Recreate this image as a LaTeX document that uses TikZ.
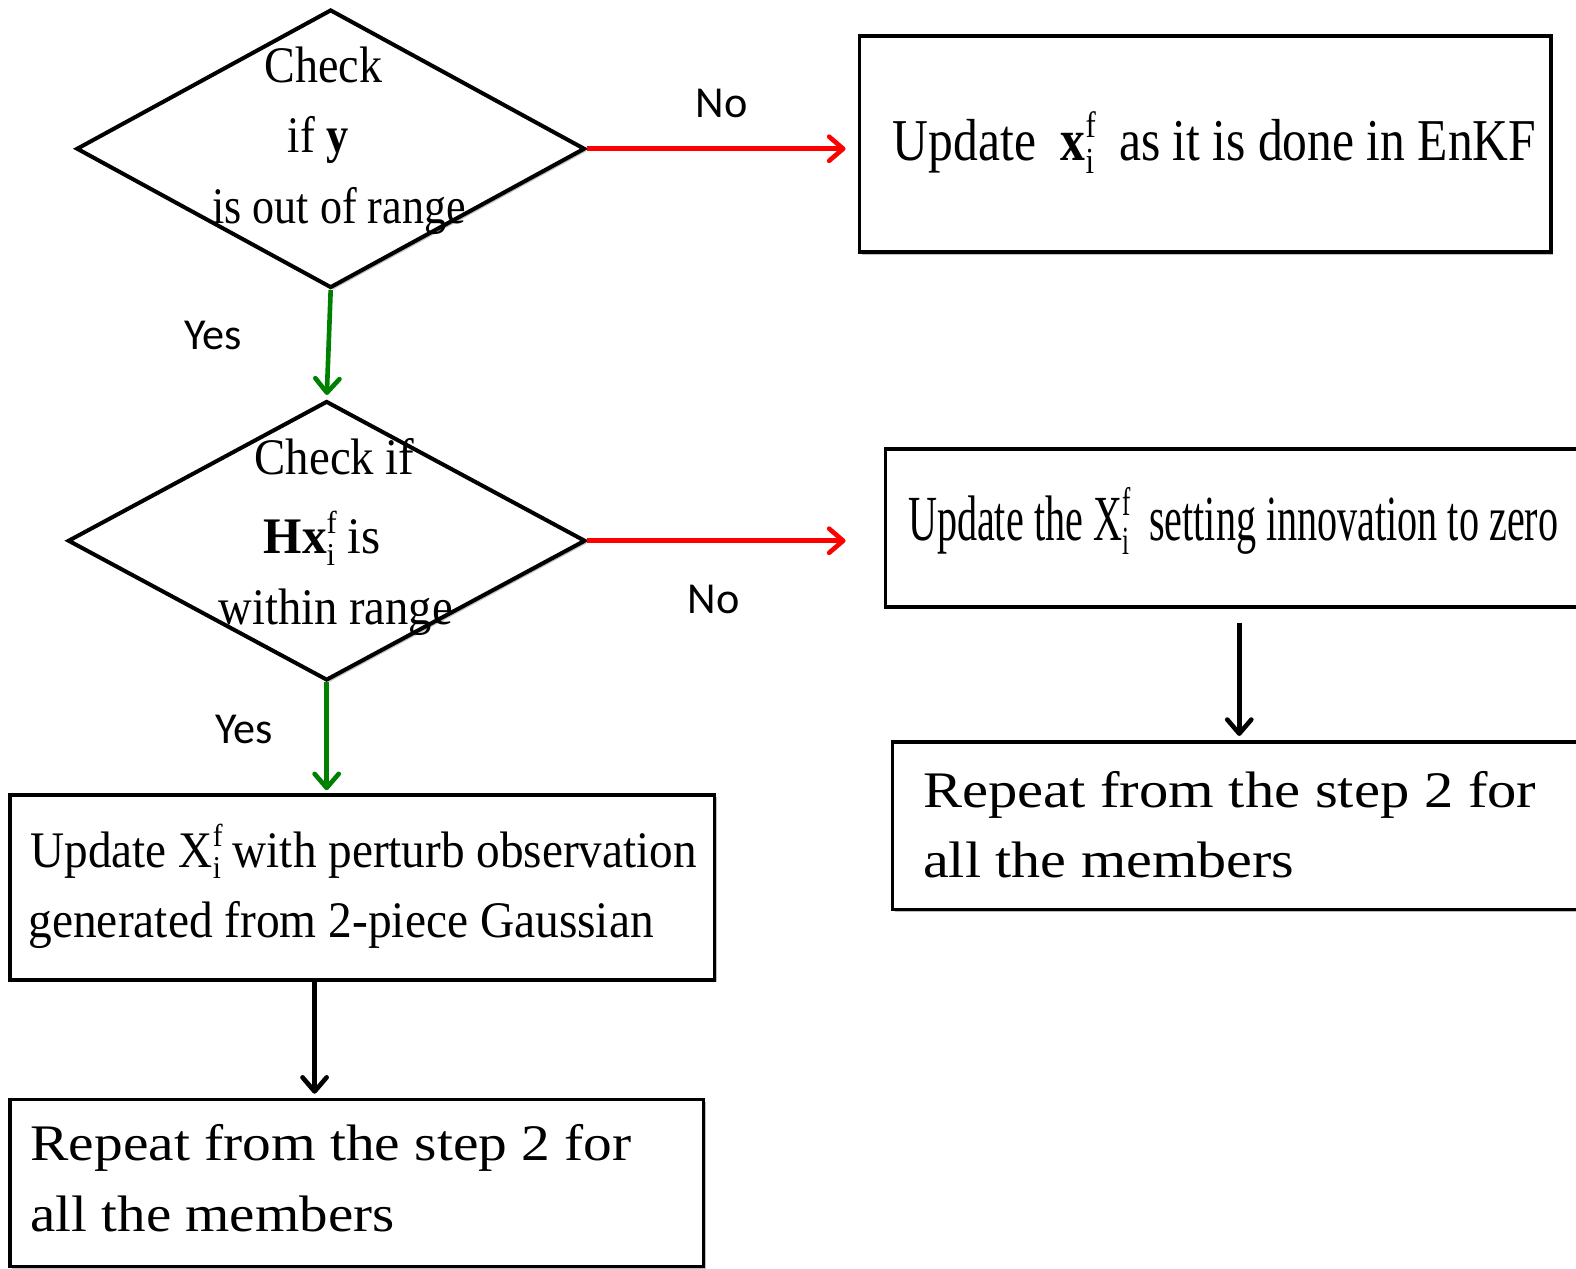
\documentclass[tikz,border=0pt]{standalone}
\usepackage{fontspec}
\setmainfont{Liberation Serif}
\newfontfamily\lblfont{Carlito}
\usepackage{graphicx}
\usetikzlibrary{shapes.geometric,arrows.meta,shadows}
\newcommand{\fitw}[2]{\resizebox{#1}{\height}{#2}}
\newcommand{\supfi}{\rlap{\raisebox{0.4em}{\scalebox{0.62}{f}}}\raisebox{-0.22em}{\scalebox{0.62}{i}}}
\begin{document}
\begin{tikzpicture}[x=0.5pt,y=-0.5pt,
  shade/.style={drop shadow={shadow xshift=1.2pt,shadow yshift=-1.2pt,fill=black,opacity=0.25}},
  boxnode/.style={draw, rectangle, line width=1.8pt, fill=white, inner sep=0pt, shade},
  decision/.style={draw, diamond, line width=2pt, fill=white, inner sep=0pt, shade},
  txt/.style={anchor=base west, inner sep=0pt, font=\fontsize{25.5}{30}\selectfont},
  lbl/.style={inner sep=0pt, font=\lblfont\fontsize{22}{26}\selectfont},
  tip/.style={-{Straight Barb[length=7pt,width=12pt,line width=2.3pt,line cap=round,line join=round]}, line width=2.3pt},
  noarrow/.style={tip, red},
  yesarrow/.style={tip, green!50!black},
  nextarrow/.style={tip, black}
]
\clip (0,0) rectangle (1568,1262);

% decisions
\node[decision, minimum width=253pt, minimum height=138.5pt] (d1) at (329,148) {};
\node[decision, minimum width=257.5pt, minimum height=139pt] (d2) at (325,538) {};

% boxes
\node[boxnode, minimum width=344pt, minimum height=107.5pt] (b1) at (1199,143.5) {};
\node[boxnode, minimum width=349.5pt, minimum height=78.5pt] (b2) at (1230.5,525.5) {};
\node[boxnode, minimum width=346pt, minimum height=83.5pt] (b3) at (1234,821.5) {};
\node[boxnode, minimum width=350.5pt, minimum height=92pt] (b4) at (360.5,883) {};
\node[boxnode, minimum width=345pt, minimum height=83pt] (b5) at (355,1177) {};

% texts
\node[txt] (t1a) at (263,82) {\fitw{58.5pt}{Check}};
\node[txt] (t1b) at (286,152) {\fitw{30pt}{if \textbf{y}}};
\node[txt] (t1c) at (211,222) {\fitw{126pt}{is out of range}};

\node[txt] (t2a) at (253,472) {\fitw{79.5pt}{Check if}};
\node[txt] (t2b) at (262,551) {\fitw{58pt}{\textbf{Hx}\supfi{} is}};
\node[txt] (t2c) at (217,621) {\fitw{116.5pt}{within range}};

\node[txt, font=\fontsize{29.5}{34}\selectfont] (tb1) at (888,160) {\fitw{320pt}{Update\ \ \textbf{x}\supfi\ \ as it is done in EnKF}};
\node[txt, font=\fontsize{32}{36}\selectfont] (tb2) at (903,538) {\fitw{323.5pt}{Update the X\supfi\ \ setting innovation to zero}};

\node[txt] (tb4a) at (30,863) {\fitw{331.5pt}{Update X\supfi{} with perturb observation}};
\node[txt] (tb4b) at (28,933) {\fitw{311pt}{generated from 2-piece Gaussian}};

\node[txt] (tb5a) at (30,1155) {\fitw{299pt}{Repeat from the step 2 for}};
\node[txt] (tb5b) at (30,1225) {\fitw{181pt}{all the members}};

\node[txt] (tb3a) at (918,803) {\fitw{305pt}{Repeat from the step 2 for}};
\node[txt] (tb3b) at (918,873) {\fitw{184.5pt}{all the members}};

% labels
\node[lbl] (no1) at (718,103) {No};
\node[lbl] (yes1) at (212,334) {Yes};
\node[lbl] (no2) at (710,596) {No};
\node[lbl] (yes2) at (243,726) {Yes};

% connectors
\draw[noarrow, shorten >=6pt] (d1.east) -- (d1.east -| b1.west);
\draw[noarrow, shorten >=19pt] (d2.east) -- (d2.east -| b2.west);
\draw[yesarrow, shorten >=2pt] (d1.south) -- (d2.north);
\draw[yesarrow, shorten >=1.5pt] (d2.south) -- (d2.south |- b4.north);
\draw[nextarrow, shorten >=2pt] ([xshift=-23.75pt]b4.south) -- ([xshift=-23.75pt]b4.south |- b5.north);
\draw[nextarrow, shorten <=7pt, shorten >=2pt] ([xshift=1.25pt]b2.south) -- ([xshift=1.25pt]b2.south |- b3.north);
\end{tikzpicture}
\end{document}
